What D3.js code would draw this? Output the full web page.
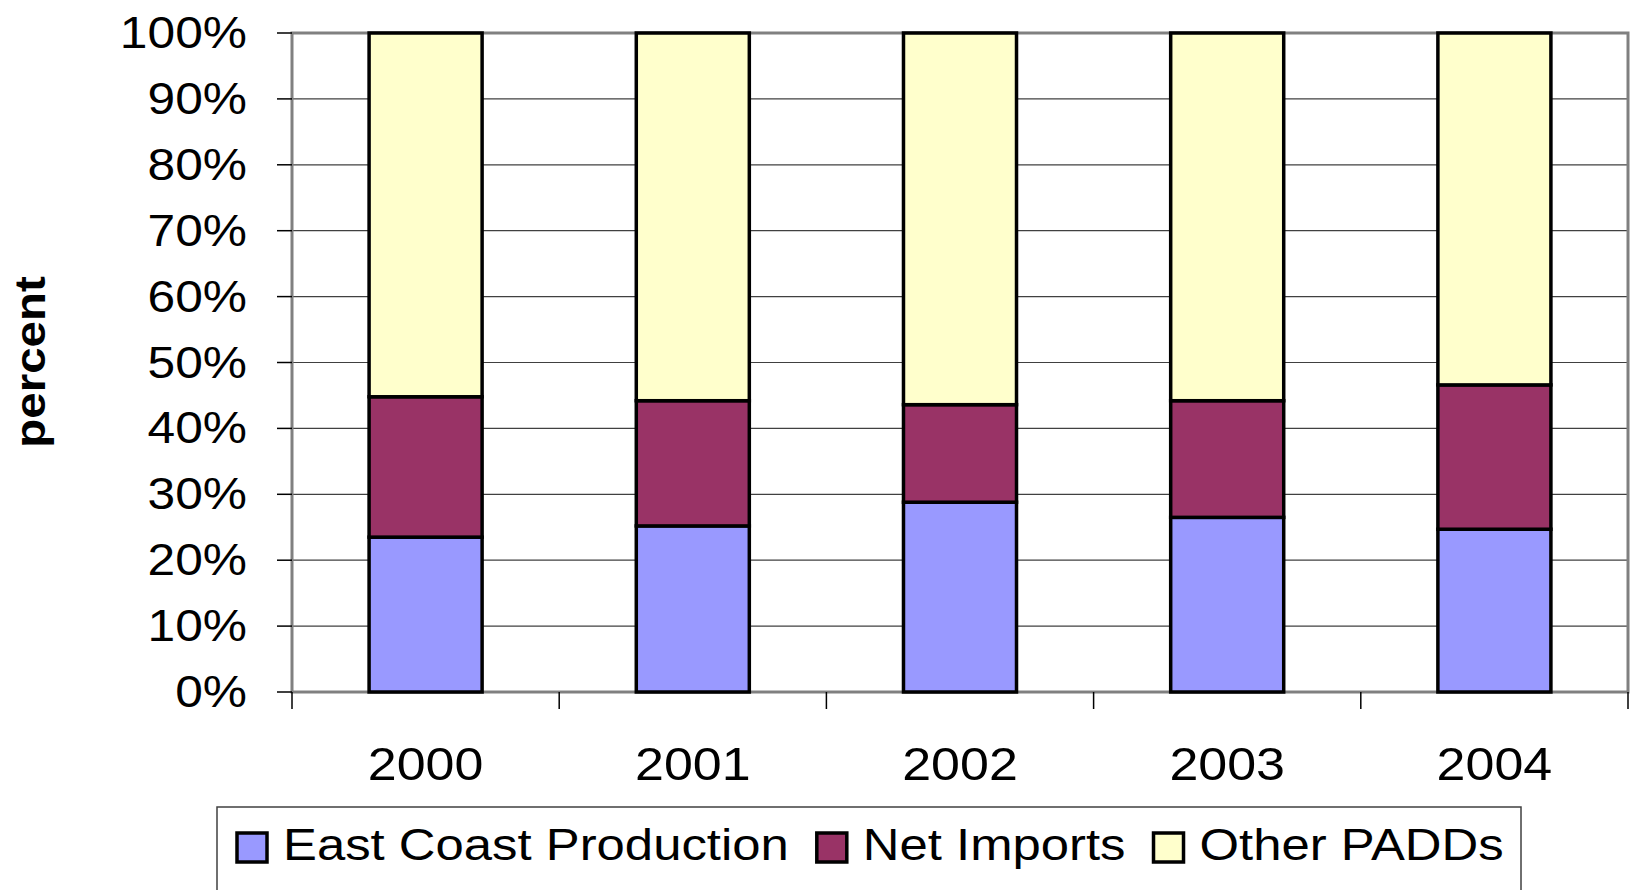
<!DOCTYPE html>
<html>
<head>
<meta charset="utf-8">
<script src="https://cdn.jsdelivr.net/npm/d3@7"></script>
<style>
  body { margin: 0; background: #fff; }
  text { font-family: "Liberation Sans", Arial, sans-serif; fill: #000; }
</style>
</head>
<body>
<div id="chart"></div>
<script>
// data (percent)
const years = ["2000", "2001", "2002", "2003", "2004"];
const eastCoast = [23.5, 25.2, 28.8, 26.5, 24.7];
const netImports = [21.3, 19.0, 14.8, 17.7, 21.9];
const otherPADDs = years.map((d, i) => 100 - eastCoast[i] - netImports[i]);
const seriesNames = ["East Coast Production", "Net Imports", "Other PADDs"];
const seriesColors = ["#9999FF", "#993366", "#FFFFCC"];
const yTicks = [0, 10, 20, 30, 40, 50, 60, 70, 80, 90, 100];

const width = 1632, height = 890;
const plotL = 292, plotR = 1628, plotT = 33, plotB = 692;
const stretch = 1.13; // text is a bit wide in the original

const svg = d3.select("#chart").append("svg")
  .attr("width", width)
  .attr("height", height);

const x = d3.scaleBand()
  .domain(years)
  .range([plotL, plotR])
  .paddingInner(0.577)
  .paddingOuter(0.2885);

const y = d3.scaleLinear()
  .domain([0, 100])
  .range([plotB, plotT]);

// gridlines
svg.append("g")
  .selectAll("line")
  .data(yTicks.slice(1, -1))
  .enter().append("line")
  .attr("x1", plotL).attr("x2", plotR)
  .attr("y1", d => y(d)).attr("y2", d => y(d))
  .attr("stroke", "#404040")
  .attr("stroke-width", 1.2);

// plot frame
svg.append("rect")
  .attr("x", plotL).attr("y", plotT)
  .attr("width", plotR - plotL).attr("height", plotB - plotT)
  .attr("fill", "none")
  .attr("stroke", "#808080")
  .attr("stroke-width", 3);

// y ticks + labels
const yAxis = svg.append("g");
yAxis.selectAll("line")
  .data(yTicks)
  .enter().append("line")
  .attr("x1", plotL - 15).attr("x2", plotL)
  .attr("y1", d => y(d)).attr("y2", d => y(d))
  .attr("stroke", "#000").attr("stroke-width", 1.5);
yAxis.selectAll("text")
  .data(yTicks)
  .enter().append("text")
  .attr("transform", d => `translate(247,${y(d) + 15}) scale(${stretch},1)`)
  .attr("text-anchor", "end")
  .attr("font-size", 44)
  .text(d => d + "%");

// x ticks at category boundaries
const bounds = d3.range(years.length + 1).map(i => plotL + i * x.step());
svg.append("g").selectAll("line")
  .data(bounds)
  .enter().append("line")
  .attr("x1", d => d).attr("x2", d => d)
  .attr("y1", plotB).attr("y2", plotB + 17)
  .attr("stroke", "#000").attr("stroke-width", 1.5);

svg.append("g").selectAll("text")
  .data(years)
  .enter().append("text")
  .attr("transform", d => `translate(${x(d) + x.bandwidth() / 2},780) scale(${stretch},1)`)
  .attr("text-anchor", "middle")
  .attr("font-size", 46)
  .text(d => d);

// stacked bars
const rows = years.map((d, i) => ({
  year: d,
  "East Coast Production": eastCoast[i],
  "Net Imports": netImports[i],
  "Other PADDs": otherPADDs[i]
}));
const stack = d3.stack().keys(seriesNames)(rows);
const color = d3.scaleOrdinal(seriesNames, seriesColors);

svg.append("g").selectAll("g")
  .data(stack)
  .enter().append("g")
  .attr("fill", d => color(d.key))
  .selectAll("rect")
  .data(d => d)
  .enter().append("rect")
  .attr("x", d => x(d.data.year))
  .attr("width", x.bandwidth())
  .attr("y", d => y(d[1]))
  .attr("height", d => y(d[0]) - y(d[1]))
  .attr("stroke", "#000")
  .attr("stroke-width", 3.5);

// y axis title
svg.append("text")
  .attr("transform", `translate(45,362) rotate(-90) scale(${stretch},1)`)
  .attr("text-anchor", "middle")
  .attr("font-size", 42)
  .attr("font-weight", "bold")
  .text("percent");

// legend
const legend = svg.append("g");
legend.append("rect")
  .attr("x", 217).attr("y", 807)
  .attr("width", 1521 - 217).attr("height", 120)
  .attr("fill", "#fff")
  .attr("stroke", "#404040")
  .attr("stroke-width", 1.5);

let lx = 237;
seriesNames.forEach(name => {
  legend.append("rect")
    .attr("x", lx).attr("y", 833)
    .attr("width", 30).attr("height", 29)
    .attr("fill", color(name))
    .attr("stroke", "#000")
    .attr("stroke-width", 3.5);
  const t = legend.append("text")
    .attr("transform", `translate(${lx + 46},860) scale(${stretch},1)`)
    .attr("font-size", 45)
    .text(name);
  lx += 46 + t.node().getComputedTextLength() * stretch + 28;
});
</script>
</body>
</html>
